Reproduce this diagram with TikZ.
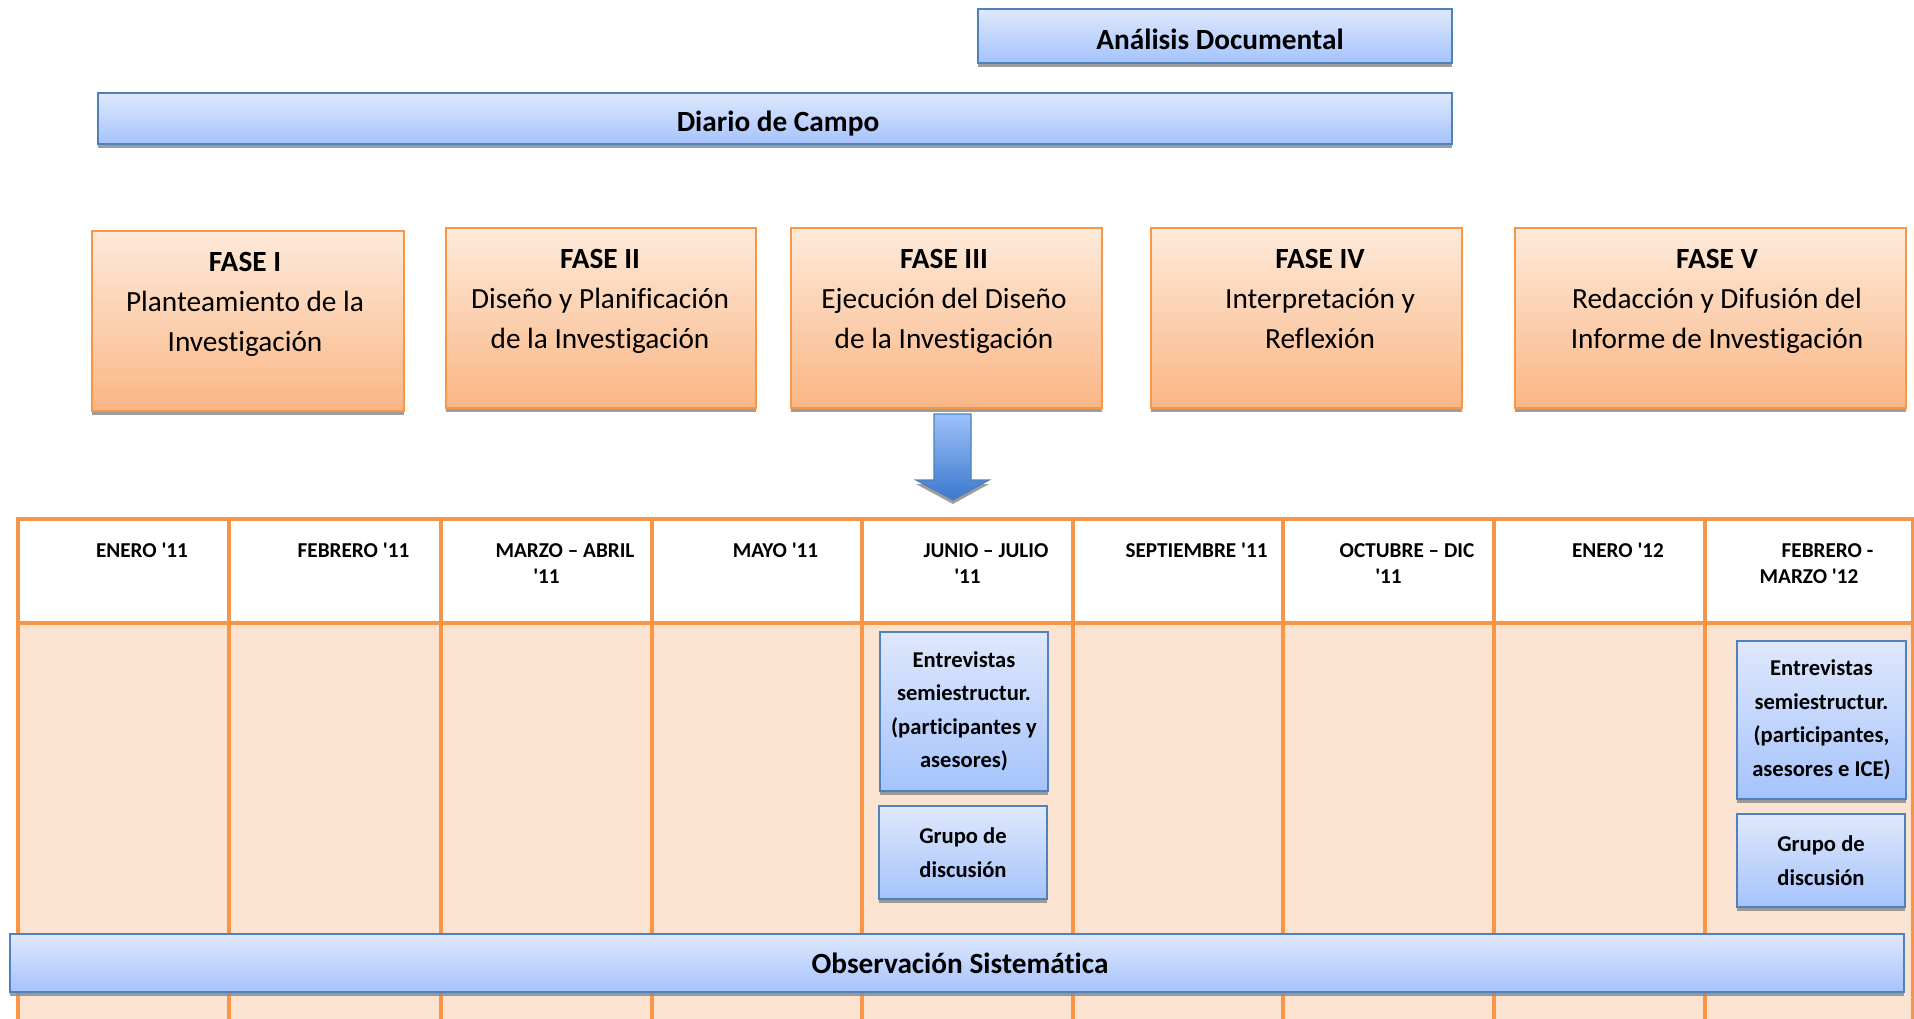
\documentclass[tikz,border=0pt]{standalone}
\usepackage{fontspec}
\setmainfont{Carlito}[Ligatures={TeX,NoCommon}]
\usetikzlibrary{shadows}

\definecolor{tabline}{HTML}{F79646}
\definecolor{cellfill}{HTML}{FBE3D2}
\definecolor{phtop}{HTML}{FDEADA}
\definecolor{phbot}{HTML}{FAB685}
\definecolor{bltop}{HTML}{DFE8FC}
\definecolor{blbot}{HTML}{A5C3FC}
\definecolor{blline}{HTML}{4F81BD}
\definecolor{artop}{HTML}{9FC1FB}
\definecolor{arbot}{HTML}{3B78CD}

\begin{document}
\begin{tikzpicture}[x=1pt,y=-1pt,
  every node/.style={inner sep=0pt, outer sep=0pt},
  boxshadow/.style={drop shadow={shadow xshift=0pt, shadow yshift=-4pt, fill=black!45, opacity=0.85}},
  grid/.style={draw=tabline, line width=3.5pt},
  bluebox/.style={draw=blline, line width=1.8pt, top color=bltop, bottom color=blbot, boxshadow},
  phasebox/.style={draw=tabline, line width=1.8pt, top color=phtop, bottom color=phbot, boxshadow},
  arrowshape/.style={draw=blline, line width=1.2pt, top color=artop, bottom color=arbot, boxshadow},
  bartext/.style={font=\fontsize{29.3}{35}\selectfont\bfseries, anchor=base},
  phasetext/.style={font=\fontsize{29.3}{40}\selectfont, align=center, anchor=north},
  hdr/.style={font=\fontsize{21.2}{26}\selectfont\bfseries, align=center, anchor=north},
  celltext/.style={font=\fontsize{22.6}{33.5}\selectfont\bfseries, align=center},
]
\useasboundingbox (0,0) rectangle (1914,1019);

% --- top bars -------------------------------------------------------
\node[bluebox, minimum width=474pt, minimum height=54pt] (ana) at (1215,36) {};
\node[bartext] (anat) at (1220,50) {Análisis Documental};
\node[bluebox, minimum width=1354pt, minimum height=51pt] (dia) at (775,118.5) {};
\node[bartext] (diat) at (778,132) {Diario de Campo};

% --- phases -----------------------------------------------------------
\node[phasebox, minimum width=312pt, minimum height=180pt] (f1) at (248,321) {};
\node[phasebox, minimum width=310pt, minimum height=180pt] (f2) at (601,318) {};
\node[phasebox, minimum width=311pt, minimum height=180pt] (f3) at (946.5,318) {};
\node[phasebox, minimum width=311pt, minimum height=180pt] (f4) at (1306.5,318) {};
\node[phasebox, minimum width=391pt, minimum height=180pt] (f5) at (1710.5,318) {};

\node[phasetext] (f1t) at (245,252) {\textbf{FASE I}\\Planteamiento de la\\Investigación};
\node[phasetext] (f2t) at (600,249) {\textbf{FASE II}\\Diseño y Planificación\\de la Investigación};
\node[phasetext] (f3t) at (944,249) {\textbf{FASE III}\\Ejecución del Diseño\\de la Investigación};
\node[phasetext] (f4t) at (1320,249) {\textbf{FASE IV}\\Interpretación y\\Reflexión};
\node[phasetext] (f5t) at (1717,249) {\textbf{FASE V}\\Redacción y Difusión del\\Informe de Investigación};

% --- block arrow down from phase III ---------------------------------
\draw[arrowshape] (934,414) -- (971,414) -- (971,480) -- (989,480) -- (953,500)
  -- (916,480) -- (934,480) -- cycle;

% --- timeline table ---------------------------------------------------
\fill[white] (18,519) rectangle (1913,623);
\fill[cellfill] (18,623) rectangle (1913,1030);
\foreach \x in {18,229,441,652,862,1073,1283,1494,1705,1913}
  \draw[grid] (\x,517.25) -- (\x,1030);
\draw[grid] (16.25,519) -- (1914,519);
\draw[grid] (16.25,623) -- (1914,623);

\node[hdr] (h1) at (123.5,543.5) {\hspace*{37pt}ENERO \textquotesingle 11};
\node[hdr] (h2) at (335,543.5) {\hspace*{37pt}FEBRERO \textquotesingle 11};
\node[hdr] (h3) at (546.5,543.5) {\hspace*{37pt}MARZO – ABRIL\\\textquotesingle 11};
\node[hdr] (h4) at (757,543.5) {\hspace*{37pt}MAYO \textquotesingle 11};
\node[hdr] (h5) at (967.5,543.5) {\hspace*{37pt}JUNIO – JULIO\\\textquotesingle 11};
\node[hdr] (h6) at (1178,543.5) {\hspace*{37pt}SEPTIEMBRE \textquotesingle 11};
\node[hdr] (h7) at (1388.5,543.5) {\hspace*{37pt}OCTUBRE – DIC\\\textquotesingle 11};
\node[hdr] (h8) at (1599.5,543.5) {\hspace*{37pt}ENERO \textquotesingle 12};
\node[hdr] (h9) at (1809,543.5) {\hspace*{37pt}FEBRERO -\\MARZO \textquotesingle 12};

% --- activities inside the cells -------------------------------------
\node[bluebox, celltext, minimum width=168pt, minimum height=159pt] (e1) at (964,711.5)
  {Entrevistas\\semiestructur.\\(participantes y\\asesores)};
\node[bluebox, celltext, minimum width=168pt, minimum height=93pt] (g1) at (963,852.5)
  {Grupo de\\discusión};
\node[bluebox, celltext, minimum width=169pt, minimum height=158pt] (e2) at (1821.5,720)
  {Entrevistas\\semiestructur.\\(participantes,\\asesores e ICE)};
\node[bluebox, celltext, minimum width=168pt, minimum height=93pt] (g2) at (1821,860.5)
  {Grupo de\\discusión};

% --- bottom bar ---------------------------------------------------------
\node[bluebox, minimum width=1894pt, minimum height=58pt] (obs) at (957,963) {};
\node[bartext] (obst) at (960,973) {Observación Sistemática};
\end{tikzpicture}
\end{document}
